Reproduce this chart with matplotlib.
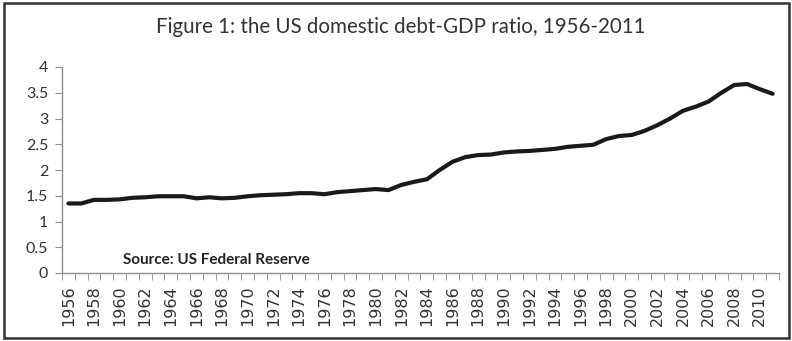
import numpy as np
import matplotlib
matplotlib.use("Agg")
import matplotlib.pyplot as plt
from matplotlib.patches import Rectangle

years = list(range(1956, 2012))
ratio = [1.35, 1.35, 1.42, 1.42, 1.43, 1.46, 1.47, 1.49, 1.49, 1.49,
         1.45, 1.47, 1.45, 1.46, 1.49, 1.51, 1.52, 1.53, 1.55, 1.55,
         1.53, 1.57, 1.59, 1.61, 1.63, 1.61, 1.71, 1.77, 1.82, 2.00,
         2.16, 2.25, 2.29, 2.30, 2.34, 2.36, 2.37, 2.39, 2.41, 2.45,
         2.47, 2.49, 2.60, 2.66, 2.68, 2.76, 2.87, 3.00, 3.15, 3.23,
         3.33, 3.50, 3.65, 3.67, 3.57, 3.48]
yticks = [0, 0.5, 1, 1.5, 2, 2.5, 3, 3.5, 4]
ytick_labels = ["0", "0.5", "1", "1.5", "2", "2.5", "3", "3.5", "4"]
title = "Figure 1: the US domestic debt-GDP ratio, 1956-2011"
source = "Source: US Federal Reserve"

W, H = 792, 341
fig = plt.figure(figsize=(W / 100, H / 100), dpi=100)
ax = fig.add_axes([62 / W, 1 - 273 / H, (779 - 62) / W, (273 - 67) / H])

x = np.arange(len(years))
ax.plot(x, ratio, color="#1a1a1a", lw=3.0, solid_capstyle="round", solid_joinstyle="round")

ax.set_xlim(-0.5, len(years) - 0.5)
ax.set_ylim(0, 4)
for s in ["top", "right"]:
    ax.spines[s].set_visible(False)
for s in ["left", "bottom"]:
    ax.spines[s].set_color("#8c8c8c")
    ax.spines[s].set_linewidth(1.0)

ax.set_yticks(yticks)
ax.set_yticklabels(ytick_labels, fontfamily="Lato", fontsize=11.5, color="#333333")
ax.tick_params(axis="y", direction="out", length=5, color="#8c8c8c", pad=5)

ax.set_xticks(x[::2])
ax.set_xticklabels([str(y) for y in years[::2]], rotation=90, fontfamily="DejaVu Sans",
                   fontsize=11.5, color="#333333")
ax.set_xticks(np.arange(-0.5, len(years)), minor=True)
ax.tick_params(axis="x", which="major", length=0, pad=9)
ax.tick_params(axis="x", which="minor", direction="out", length=5, color="#8c8c8c")

fig.text(401 / W, 1 - 27 / H, title, ha="center", va="center", fontfamily="Lato",
         fontsize=14.8, color="#333333")
ax.text(123 / W, 1 - 260 / H, source, transform=fig.transFigure, ha="left", va="center",
        fontfamily="Lato", fontsize=11, fontweight="bold", color="#222222")

fig.patches.append(Rectangle((4 / W, 3 / H), (789 - 4) / W, (338 - 3) / H,
                             transform=fig.transFigure, fill=False, edgecolor="#333333", lw=1.8))

fig.savefig("out.png", dpi=100)
